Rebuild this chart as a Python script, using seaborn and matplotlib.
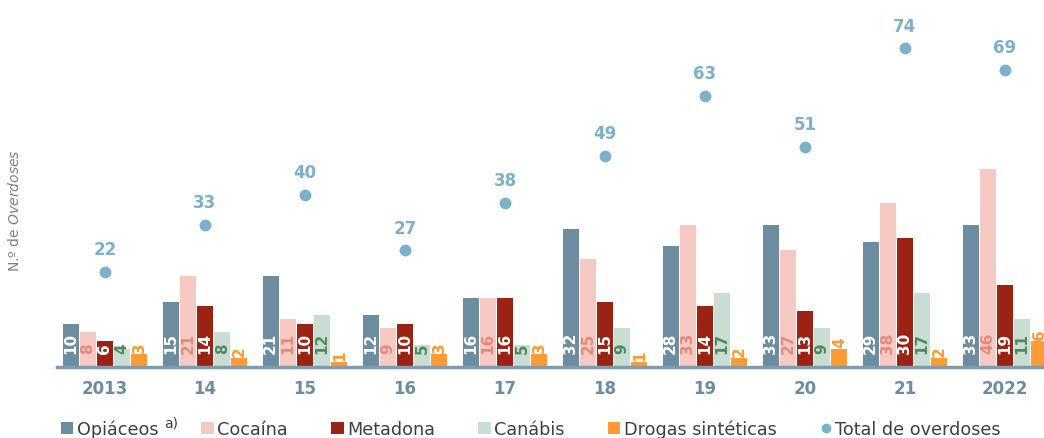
import pandas as pd
import numpy as np
import matplotlib.pyplot as plt
import seaborn as sns
from matplotlib.patches import Patch
from matplotlib.lines import Line2D

# dados
anos = ['2013', '14', '15', '16', '17', '18', '19', '20', '21', '2022']
opiaceos = [10, 15, 21, 12, 16, 32, 28, 33, 29, 33]
cocaina = [8, 21, 11, 9, 16, 25, 33, 27, 38, 46]
metadona = [6, 14, 10, 10, 16, 15, 14, 13, 30, 19]
canabis = [4, 8, 12, 5, 5, 9, 17, 9, 17, 11]
sinteticas = [3, 2, 1, 3, 3, 1, 2, 4, 2, 6]
total = [22, 33, 40, 27, 38, 49, 63, 51, 74, 69]

series = ['Opiáceos', 'Cocaína', 'Metadona', 'Canábis', 'Drogas sintéticas']
cores = ['#6C8DA0', '#F6CAC3', '#9C2314', '#C9DDD2', '#FF9A35']
cores_txt = ['white', '#E8887B', 'white', '#4F8A5F', '#FF9A35']
cor_total = '#7DB0C9'

df = pd.DataFrame({'ano': anos, 'Opiáceos': opiaceos, 'Cocaína': cocaina,
                   'Metadona': metadona, 'Canábis': canabis,
                   'Drogas sintéticas': sinteticas})
df = df.melt(id_vars='ano', var_name='tipo', value_name='valor')

fig = plt.figure(figsize=(10.44, 4.39), dpi=100)
ax = fig.add_axes([57 / 1044, 71.5 / 439, 1 - 57 / 1044, 1 - 71.5 / 439])

sns.barplot(data=df, x='ano', y='valor', hue='tipo', hue_order=series,
            palette=cores, saturation=1, width=0.86, gap=0.06,
            legend=False, ax=ax)

for cont, cor in zip(ax.containers, cores_txt):
    for p in cont:
        xc = p.get_x() + p.get_width() / 2
        h = p.get_height()
        v = int(round(h))
        if cor == '#FF9A35':
            ax.annotate(str(v), (xc, h), xytext=(0, 1.5), textcoords='offset points',
                        rotation=90, ha='center', va='bottom', color=cor,
                        fontsize=11, fontweight='bold')
        else:
            ax.annotate(str(v), (xc, 0), xytext=(0, 9.5), textcoords='offset points',
                        rotation=90, ha='center', va='bottom', color=cor,
                        fontsize=11, fontweight='bold')

sns.stripplot(x=anos, y=total, jitter=False, color=cor_total, size=8.5,
              linewidth=0, ax=ax)
for i, t in enumerate(total):
    ax.annotate(str(t), (i, t), xytext=(0, 10), textcoords='offset points',
                ha='center', va='bottom', color=cor_total, fontsize=12,
                fontweight='bold')

ax.set_xlim(-0.48, 9.39)
ax.set_ylim(0, 85.5)
ax.set_xlabel('')
ax.set_ylabel('')
ax.set_yticks([])
ax.tick_params(axis='x', length=0, pad=9, labelsize=12, labelcolor='#6C8DA0')
for lab in ax.get_xticklabels():
    lab.set_fontweight('bold')
for s in ['top', 'right', 'left']:
    ax.spines[s].set_visible(False)
ax.spines['bottom'].set_color('#7F9CAE')
ax.spines['bottom'].set_linewidth(2.5)
ax.set_facecolor('none')

fig.text(15 / 1044, 0.52, r'N.º de $\it{Overdoses}$', rotation=90,
         ha='center', va='center', color='#808080', fontsize=10)

handles = [Patch(facecolor=c, edgecolor='none') for c in cores]
handles.append(Line2D([], [], marker='o', color=cor_total, linestyle='none',
                      markersize=6))
labels = ['Opiáceos', 'Cocaína', 'Metadona', 'Canábis', 'Drogas sintéticas',
          'Total de overdoses']
leg = fig.legend(handles, labels, loc='center left', bbox_to_anchor=(45 / 1044, 9 / 439),
                 ncol=6, frameon=False, fontsize=12.7, handlelength=0.7, handleheight=0.7,
                 handletextpad=0.2, columnspacing=2.45, labelcolor='#404040')
# nota a) junto de "Opiáceos"
fig.text(164 / 1044, 15 / 439, 'a)', fontsize=10, color='#404040',
         ha='left', va='center')

fig.savefig('out.png', dpi=100)
